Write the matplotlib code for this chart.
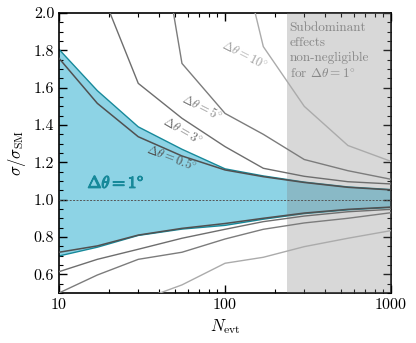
import numpy as np
import matplotlib
matplotlib.use("Agg")
import matplotlib.pyplot as plt
import matplotlib.patheffects as pe
from matplotlib.ticker import MultipleLocator

# Computer Modern look
plt.rcParams['font.family'] = 'serif'
plt.rcParams['font.serif'] = ['cmr10']
plt.rcParams['mathtext.fontset'] = 'cm'
plt.rcParams['axes.formatter.use_mathtext'] = True

# ------------------------------------------------------------------------------
# Data
N_evt = [10, 17, 30, 55, 100, 170, 300, 550, 1000]

up_05 = [1.757, 1.516, 1.337, 1.234, 1.159, 1.123, 1.092, 1.066, 1.052]
lo_05 = [0.718, 0.752, 0.810, 0.846, 0.872, 0.900, 0.928, 0.948, 0.960]

up_1 = [1.805, 1.584, 1.390, 1.270, 1.165, 1.127, 1.094, 1.068, 1.054]
lo_1 = [0.698, 0.745, 0.808, 0.842, 0.862, 0.895, 0.925, 0.945, 0.958]

up_3 = [2.90, 2.17, 1.623, 1.436, 1.284, 1.168, 1.125, 1.096, 1.084]
lo_3 = [0.614, 0.680, 0.734, 0.793, 0.841, 0.882, 0.912, 0.935, 0.948]

up_5 = [5.5, 4.2, 3.12, 1.73, 1.462, 1.350, 1.215, 1.155, 1.109]
lo_5 = [0.500, 0.596, 0.680, 0.718, 0.789, 0.841, 0.875, 0.900, 0.930]

up_10 = [9.0, 6.0, 4.5, 3.5, 2.67, 1.82, 1.50, 1.29, 1.205]
lo_10 = [0.300, 0.380, 0.457, 0.543, 0.659, 0.691, 0.748, 0.793, 0.834]

N_sub = 235  # start of the shaded region

# ------------------------------------------------------------------------------
fig = plt.figure(figsize=(4.16, 3.43), dpi=100)
ax = fig.add_axes([0.142, 0.146, 0.798, 0.816])

# Delta theta = 1 deg band
ax.fill_between(N_evt, lo_1, up_1, facecolor='#8dd3e5', edgecolor='none', zorder=1)
ax.plot(N_evt, up_1, color='#17899a', lw=1.0, zorder=2)
ax.plot(N_evt, lo_1, color='#17899a', lw=1.0, zorder=2)

# shaded region
ax.axvspan(N_sub, 1000, color='#808080', alpha=0.3, lw=0, zorder=3)

# other resolutions
ax.plot(N_evt, up_05, color='#505050', lw=1.1, zorder=4)
ax.plot(N_evt, lo_05, color='#505050', lw=1.1, zorder=4)
ax.plot(N_evt, up_3, color='#6e6e6e', lw=1.0, zorder=4)
ax.plot(N_evt, lo_3, color='#6e6e6e', lw=1.0, zorder=4)
ax.plot(N_evt, up_5, color='#7c7c7c', lw=1.0, zorder=4)
ax.plot(N_evt, lo_5, color='#7c7c7c', lw=1.0, zorder=4)
ax.plot(N_evt, up_10, color='#ababab', lw=1.0, zorder=4)
ax.plot(N_evt, lo_10, color='#ababab', lw=1.0, zorder=4)

ax.axhline(1.0, color='#555555', lw=0.7, ls=(0, (2, 1.5)), zorder=5)

# labels on the curves
ax.text(130, 1.775, r'$\Delta\theta = 10^{\circ}$', color='#a0a0a0', fontsize=9,
        rotation=-27, ha='center', va='center', zorder=6)
ax.text(73, 1.496, r'$\Delta\theta = 5^{\circ}$', color='#7c7c7c', fontsize=9,
        rotation=-27, ha='center', va='center', zorder=6)
ax.text(55, 1.368, r'$\Delta\theta = 3^{\circ}$', color='#6e6e6e', fontsize=9,
        rotation=-30, ha='center', va='center', zorder=6)
ax.text(48, 1.223, r'$\Delta\theta = 0.5^{\circ}$', color='#505050', fontsize=9,
        rotation=-21, ha='center', va='center', zorder=6)
# bold label (stroke gives the heavier weight for the Greek letters)
ax.text(22, 1.09, r'$\Delta\theta = 1^{\circ}$', color='#17899a', fontsize=12,
        ha='center', va='center', zorder=6,
        path_effects=[pe.withStroke(linewidth=0.9, foreground='#17899a')])

ax.text(245, 1.95, 'Subdominant\neffects\nnon-negligible\nfor $\\Delta\\theta = 1^{\\circ}$',
        color='#888888', fontsize=9.5, ha='left', va='top', linespacing=1.25, zorder=6)

# axes
ax.set_xscale('log')
ax.set_xlim(10, 1000)
ax.set_ylim(0.5, 2.0)
ax.set_xticks([10, 100, 1000])
ax.set_xticklabels(['10', '100', '1000'])
ax.yaxis.set_major_locator(MultipleLocator(0.2))
ax.yaxis.set_minor_locator(MultipleLocator(0.05))
ax.set_yticks([0.6, 0.8, 1.0, 1.2, 1.4, 1.6, 1.8, 2.0])
ax.set_yticklabels(['0.6', '0.8', '1.0', '1.2', '1.4', '1.6', '1.8', '2.0'])
ax.tick_params(which='both', direction='in', top=True, right=True, labelsize=11.5)
ax.tick_params(which='major', length=6, width=1.0)
ax.tick_params(which='minor', length=3, width=0.8)
for s in ax.spines.values():
    s.set_linewidth(1.2)

ax.set_xlabel(r'$N_{\rm evt}$', fontsize=12, labelpad=4)
ax.set_ylabel(r'$\sigma/\sigma_{\rm SM}$', fontsize=12, labelpad=4)

plt.savefig('out.png', dpi=100)
